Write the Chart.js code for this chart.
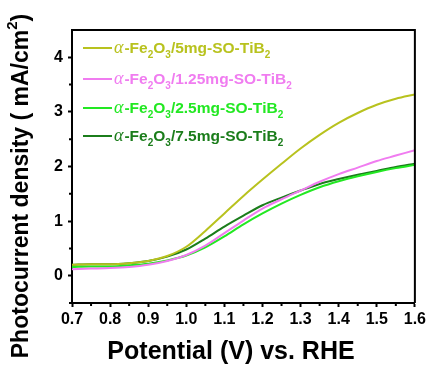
<!DOCTYPE html>
<html>
<head>
<meta charset="utf-8">
<script src="https://cdn.jsdelivr.net/npm/chart.js@4.4.0/dist/chart.umd.min.js"></script>
<style>
  html, body { margin: 0; padding: 0; background: #fff; }
  #wrap { width: 429px; height: 374px; }
</style>
</head>
<body>
<div id="wrap"><canvas id="lsvChart" width="429" height="374"></canvas></div>
<script>
// potential (V vs. RHE) and photocurrent density (mA/cm2)
const potential = [0.70, 0.75, 0.80, 0.85, 0.90, 0.95, 1.00, 1.05, 1.10, 1.15, 1.20, 1.25, 1.30, 1.35, 1.40, 1.45, 1.50, 1.55, 1.60];
const current5mg = [0.20, 0.21, 0.21, 0.23, 0.27, 0.36, 0.53, 0.82, 1.14, 1.46, 1.76, 2.05, 2.33, 2.58, 2.80, 2.98, 3.13, 3.24, 3.32];
const current125mg = [0.12, 0.13, 0.14, 0.16, 0.20, 0.27, 0.38, 0.55, 0.78, 1.01, 1.23, 1.40, 1.56, 1.72, 1.86, 1.98, 2.10, 2.20, 2.30];
const current25mg = [0.16, 0.17, 0.17, 0.19, 0.22, 0.28, 0.37, 0.52, 0.72, 0.94, 1.14, 1.32, 1.48, 1.62, 1.73, 1.82, 1.90, 1.97, 2.03];
const current75mg = [0.20, 0.21, 0.21, 0.23, 0.27, 0.35, 0.48, 0.68, 0.90, 1.10, 1.29, 1.43, 1.56, 1.68, 1.77, 1.85, 1.92, 1.99, 2.05];

const seriesNames = ['α-Fe2O3/5mg-SO-TiB2', 'α-Fe2O3/1.25mg-SO-TiB2', 'α-Fe2O3/2.5mg-SO-TiB2', 'α-Fe2O3/7.5mg-SO-TiB2'];
const seriesColors = ['#b8c21e', '#f07cf0', '#22e822', '#1b7d1b'];

const xTickLabels = [0.7, 0.8, 0.9, 1.0, 1.1, 1.2, 1.3, 1.4, 1.5, 1.6];
const xMinorTicks = [0.75, 0.85, 0.95, 1.05, 1.15, 1.25, 1.35, 1.45, 1.55];
const yTickLabels = [0, 1, 2, 3, 4];
const yMinorTicks = [-0.5, 0.5, 1.5, 2.5, 3.5];

const xTitle = 'Potential (V) vs. RHE';
const yTitle = 'Photocurrent density ( mA/cm';

const FONT = '"Liberation Sans", Arial, sans-serif';

const toPoints = ys => potential.map((x, i) => ({x, y: ys[i]}));
const allSeries = [current5mg, current125mg, current25mg, current75mg];

// legend text with subscripts: a digit directly after a letter is a subscript
const drawLabel = (ctx, text, x, y, color) => {
    ctx.fillStyle = color;
    ctx.textBaseline = 'alphabetic';
    ctx.textAlign = 'left';
    let cx = x;
    for (let i = 0; i < text.length; i++) {
        const ch = text[i];
        const prev = text[i - 1] || '';
        if (ch === 'α') {
            ctx.font = 'italic 18px "Liberation Serif", "DejaVu Serif", serif';
            ctx.fillText(ch, cx, y);
            cx += ctx.measureText(ch).width + 1;
        } else if (/[0-9]/.test(ch) && /[A-Za-z]/.test(prev)) {
            ctx.font = 'bold 10px ' + FONT;
            ctx.fillText(ch, cx, y + 5);
            cx += ctx.measureText(ch).width;
        } else {
            ctx.font = 'bold 15.5px ' + FONT;
            ctx.fillText(ch, cx, y);
            cx += ctx.measureText(ch).width;
        }
    }
};

const decorations = {
    id: 'decorations',
    afterDraw(chart) {
        const {ctx, chartArea, scales} = chart;
        ctx.save();
        // frame top / right
        ctx.strokeStyle = '#000';
        ctx.lineWidth = 2;
        ctx.beginPath();
        ctx.moveTo(chartArea.left, chartArea.top);
        ctx.lineTo(chartArea.right, chartArea.top);
        ctx.lineTo(chartArea.right, chartArea.bottom);
        ctx.stroke();

        // minor ticks
        ctx.beginPath();
        for (const v of xMinorTicks) {
            const px = scales.x.getPixelForValue(v);
            ctx.moveTo(px, chartArea.bottom);
            ctx.lineTo(px, chartArea.bottom + 3);
        }
        for (const v of yMinorTicks) {
            const py = scales.y.getPixelForValue(v);
            ctx.moveTo(chartArea.left, py);
            ctx.lineTo(chartArea.left - 3, py);
        }
        ctx.stroke();

        // axis titles
        ctx.fillStyle = '#000';
        ctx.font = 'bold 25px ' + FONT;
        ctx.textAlign = 'center';
        ctx.textBaseline = 'middle';
        ctx.fillText(xTitle, 231, 352);

        ctx.translate(20, 186);
        ctx.rotate(-Math.PI / 2);
        ctx.font = 'bold 23px ' + FONT;
        const w1 = ctx.measureText(yTitle).width;
        ctx.font = 'bold 15px ' + FONT;
        const w2 = ctx.measureText('2').width;
        ctx.font = 'bold 23px ' + FONT;
        const w3 = ctx.measureText(')').width;
        let sx = -(w1 + w2 + w3) / 2;
        ctx.textAlign = 'left';
        ctx.textBaseline = 'alphabetic';
        ctx.fillText(yTitle, sx, 8);
        sx += w1;
        ctx.font = 'bold 15px ' + FONT;
        ctx.fillText('2', sx, -3);
        sx += w2;
        ctx.font = 'bold 23px ' + FONT;
        ctx.fillText(')', sx, 8);
        ctx.setTransform(1, 0, 0, 1, 0, 0);

        // legend
        const rows = [53, 84, 113, 141];
        seriesNames.forEach((name, i) => {
            ctx.strokeStyle = seriesColors[i];
            ctx.lineWidth = 2;
            ctx.beginPath();
            ctx.moveTo(83, rows[i] - 5);
            ctx.lineTo(112, rows[i] - 5);
            ctx.stroke();
            drawLabel(ctx, name, 114, rows[i], seriesColors[i]);
        });
        ctx.restore();
    }
};

new Chart(document.getElementById('lsvChart'), {
    type: 'line',
    data: {
        datasets: allSeries.map((ys, i) => ({
            label: seriesNames[i],
            data: toPoints(ys),
            borderColor: seriesColors[i],
            backgroundColor: seriesColors[i],
            borderWidth: 2,
            pointRadius: 0,
            cubicInterpolationMode: 'monotone',
            fill: false
        }))
    },
    options: {
        responsive: false,
        animation: false,
        layout: {padding: {top: 30, right: 14, left: 0, bottom: 0}},
        plugins: {legend: {display: false}, tooltip: {enabled: false}},
        scales: {
            x: {
                type: 'linear',
                min: 0.7,
                max: 1.6,
                afterBuildTicks: s => { s.ticks = xTickLabels.map(v => ({value: v})); },
                afterFit: s => { s.height = 71; },
                ticks: {
                    callback: v => v.toFixed(1),
                    font: {family: FONT, weight: 'bold', size: 16},
                    color: '#000',
                    padding: 3,
                    maxRotation: 0,
                    autoSkip: false
                },
                grid: {drawOnChartArea: false, drawTicks: true, tickLength: 4, tickWidth: 2, tickColor: '#000'},
                border: {display: true, color: '#000', width: 2}
            },
            y: {
                min: -0.5,
                max: 4.5,
                afterBuildTicks: s => { s.ticks = yTickLabels.map(v => ({value: v})); },
                afterFit: s => { s.width = 72; },
                ticks: {
                    font: {family: FONT, weight: 'bold', size: 16},
                    color: '#000',
                    padding: 5
                },
                grid: {drawOnChartArea: false, drawTicks: true, tickLength: 4, tickWidth: 2, tickColor: '#000'},
                border: {display: true, color: '#000', width: 2}
            }
        }
    },
    plugins: [decorations]
});
</script>
</body>
</html>
